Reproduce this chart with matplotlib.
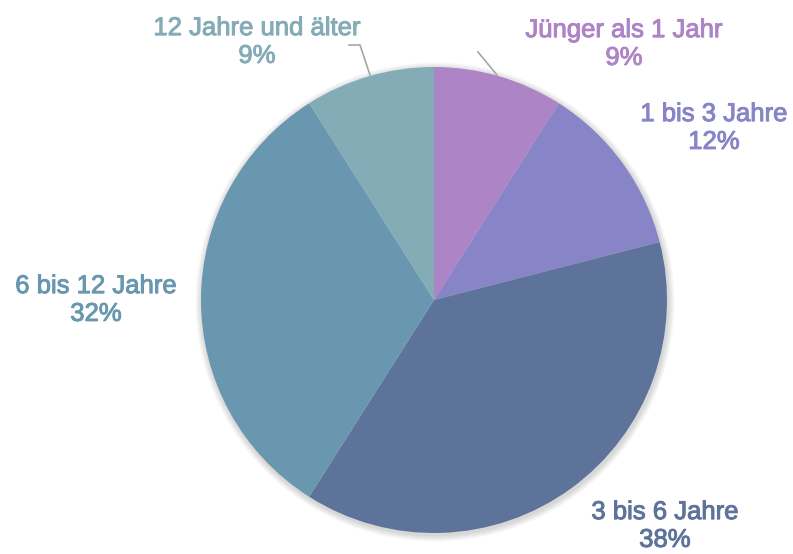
import matplotlib
matplotlib.use('Agg')
import matplotlib.pyplot as plt
import matplotlib.patheffects as pe
from matplotlib.patches import Circle

labels = ['Jünger als 1 Jahr', '1 bis 3 Jahre', '3 bis 6 Jahre', '6 bis 12 Jahre', '12 Jahre und älter']
values = [9, 12, 38, 32, 9]
colors = ['#AD84C6', '#8784C7', '#5D739A', '#6997AF', '#84ACB6']
# label centres (pixels, y from top)
label_pos = [(624, 44), (714, 128), (665, 526), (96, 300), (257, 42)]

plt.rcParams['font.family'] = ['Liberation Sans', 'DejaVu Sans']

fig = plt.figure(figsize=(7.93, 5.54), dpi=100)
ax = fig.add_axes([0, 0, 1, 1])

cx, cy, r = 434, 554 - 300, 233

# soft shadow
for i in range(8):
    ax.add_patch(Circle((cx + 1, cy - 2), r + 1 + i * 0.8, color='black',
                        alpha=0.018, lw=0, zorder=0))

ax.pie(values, colors=colors, startangle=90, counterclock=False,
       center=(cx, cy), radius=r, frame=True,
       wedgeprops=dict(linewidth=0), normalize=True)
ax.set_xlim(0, 793)
ax.set_ylim(0, 554)
ax.set_aspect('equal')
ax.axis('off')

for lab, v, c, (x, y) in zip(labels, values, colors, label_pos):
    ax.text(x, 554 - y, f'{lab}\n{v}%', color=c, fontsize=18.5, ha='center',
            va='center', linespacing=1.2,
            path_effects=[pe.withStroke(linewidth=0.7, foreground=c)])

# leader lines
ax.plot([349, 360, 370], [554 - 45, 554 - 45, 554 - 75], color='#A6A6A6', lw=1.2)
ax.plot([478, 497], [554 - 52, 554 - 75], color='#A6A6A6', lw=1.2)

fig.savefig('out.png', dpi=100)
